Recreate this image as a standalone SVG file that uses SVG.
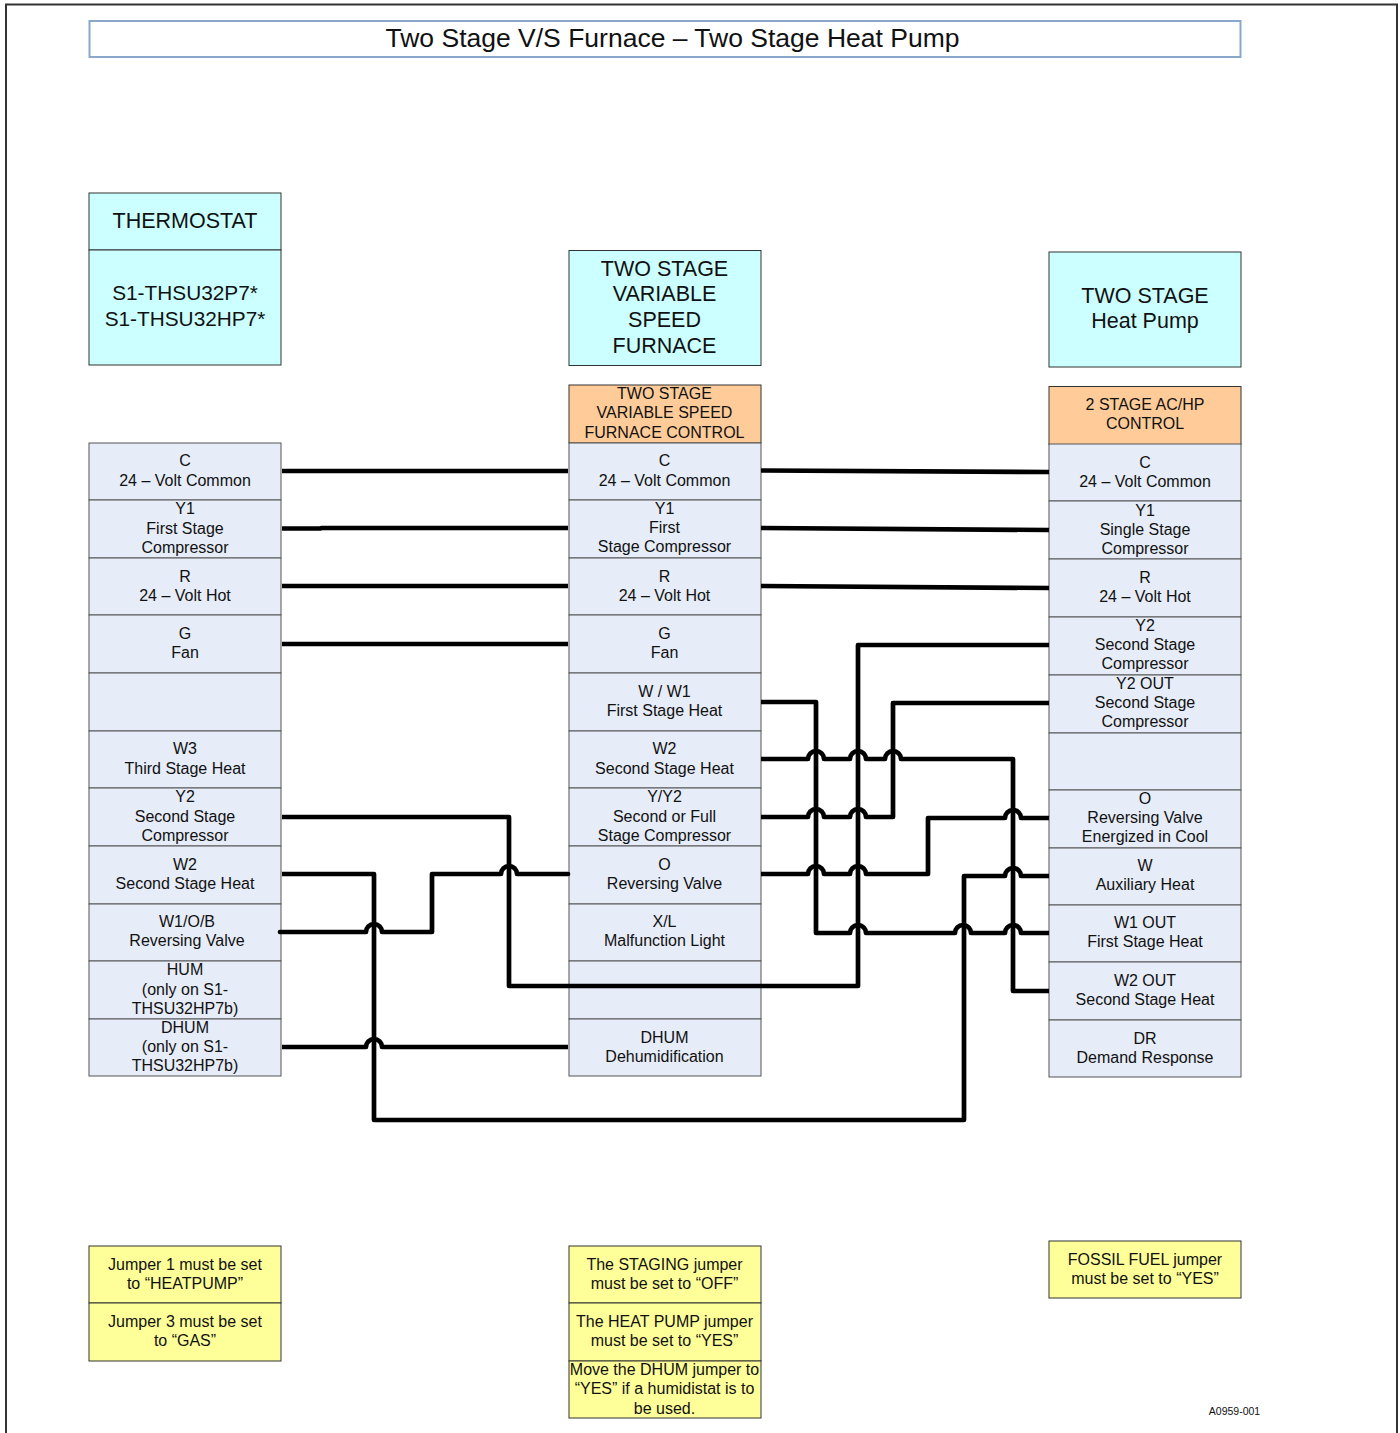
<svg xmlns="http://www.w3.org/2000/svg" width="1400" height="1433" viewBox="0 0 1400 1433">
<style>
text{font-family:"Liberation Sans",Arial,sans-serif;fill:#111;text-anchor:middle}
.t{font-size:16px}.h{font-size:21.500px}.s{font-size:20.800px}
.c{fill:#e6ecf8;stroke:#555;stroke-width:1}
.a{fill:#ccffff;stroke:#333;stroke-width:1}
.r{fill:#ffcc99;stroke:#333;stroke-width:1}
.y{fill:#ffff99;stroke:#333;stroke-width:1}
.w{fill:none;stroke:#000;stroke-width:4.700;stroke-linejoin:round;stroke-linecap:butt}
</style>
<rect x="6" y="4.500" width="1391" height="1440" fill="#fff" stroke="#333" stroke-width="2"/>
<g id="title"><rect x="89.500" y="21" width="1151" height="36" fill="#fff" stroke="#8aa8cc" stroke-width="2"/><text x="672.500" y="47" style="font-size:26.500px">Two Stage V/S Furnace – Two Stage Heat Pump</text></g>

<g id="thermostat-head"><rect class="a" x="89" y="193" width="192" height="57"/><text class="h" x="185" y="228">THERMOSTAT</text><rect class="a" x="89" y="250" width="192" height="115"/><text class="s" x="185" y="300">S1-THSU32P7*</text><text class="s" x="185" y="326">S1-THSU32HP7*</text></g>
<g id="furnace-head"><rect class="a" x="569" y="250.500" width="192" height="115"/><text class="h" x="664.500" y="276">TWO STAGE</text><text class="h" x="664.500" y="301">VARIABLE</text><text class="h" x="664.500" y="327">SPEED</text><text class="h" x="664.500" y="353">FURNACE</text></g>
<g id="heatpump-head"><rect class="a" x="1049" y="252" width="192" height="115"/><text class="h" x="1145" y="303">TWO STAGE</text><text class="h" x="1145" y="328">Heat Pump</text></g>
<g id="furnace-control"><rect class="r" x="569" y="385" width="192" height="58"/><text class="t" x="664.500" y="399">TWO STAGE</text><text class="t" x="664.500" y="418">VARIABLE SPEED</text><text class="t" x="664.500" y="438">FURNACE CONTROL</text></g>
<g id="hp-control"><rect class="r" x="1049" y="386.500" width="192" height="58"/><text class="t" x="1145" y="410">2 STAGE AC/HP</text><text class="t" x="1145" y="429">CONTROL</text></g>

<g id="L-C"><rect class="c" x="89" y="443" width="192" height="57"/><text class="t" x="185" y="466">C</text><text class="t" x="185" y="486">24 – Volt Common</text></g>
<g id="L-Y1"><rect class="c" x="89" y="500" width="192" height="58"/><text class="t" x="185" y="514">Y1</text><text class="t" x="185" y="534">First Stage</text><text class="t" x="185" y="553">Compressor</text></g>
<g id="L-R"><rect class="c" x="89" y="558" width="192" height="57"/><text class="t" x="185" y="582">R</text><text class="t" x="185" y="601">24 – Volt Hot</text></g>
<g id="L-G"><rect class="c" x="89" y="615" width="192" height="58"/><text class="t" x="185" y="639">G</text><text class="t" x="185" y="658">Fan</text></g>
<g id="L-empty"><rect class="c" x="89" y="673" width="192" height="58"/></g>
<g id="L-W3"><rect class="c" x="89" y="731" width="192" height="57"/><text class="t" x="185" y="754">W3</text><text class="t" x="185" y="774">Third Stage Heat</text></g>
<g id="L-Y2"><rect class="c" x="89" y="788" width="192" height="58"/><text class="t" x="185" y="802">Y2</text><text class="t" x="185" y="822">Second Stage</text><text class="t" x="185" y="841">Compressor</text></g>
<g id="L-W2"><rect class="c" x="89" y="846" width="192" height="58"/><text class="t" x="185" y="870">W2</text><text class="t" x="185" y="889">Second Stage Heat</text></g>
<g id="L-W1"><rect class="c" x="89" y="904" width="192" height="57"/><text class="t" x="187" y="927">W1/O/B</text><text class="t" x="187" y="946">Reversing Valve</text></g>
<g id="L-HUM"><rect class="c" x="89" y="961" width="192" height="58"/><text class="t" x="185" y="975">HUM</text><text class="t" x="185" y="995">(only on S1-</text><text class="t" x="185" y="1014">THSU32HP7b)</text></g>
<g id="L-DHUM"><rect class="c" x="89" y="1019" width="192" height="57"/><text class="t" x="185" y="1033">DHUM</text><text class="t" x="185" y="1052">(only on S1-</text><text class="t" x="185" y="1071">THSU32HP7b)</text></g>

<g id="M-C"><rect class="c" x="569" y="443" width="192" height="57"/><text class="t" x="664.500" y="466">C</text><text class="t" x="664.500" y="486">24 – Volt Common</text></g>
<g id="M-Y1"><rect class="c" x="569" y="500" width="192" height="58"/><text class="t" x="664.500" y="514">Y1</text><text class="t" x="664.500" y="533">First</text><text class="t" x="664.500" y="552">Stage Compressor</text></g>
<g id="M-R"><rect class="c" x="569" y="558" width="192" height="57"/><text class="t" x="664.500" y="582">R</text><text class="t" x="664.500" y="601">24 – Volt Hot</text></g>
<g id="M-G"><rect class="c" x="569" y="615" width="192" height="58"/><text class="t" x="664.500" y="639">G</text><text class="t" x="664.500" y="658">Fan</text></g>
<g id="M-W1"><rect class="c" x="569" y="673" width="192" height="58"/><text class="t" x="664.500" y="697">W / W1</text><text class="t" x="664.500" y="716">First Stage Heat</text></g>
<g id="M-W2"><rect class="c" x="569" y="731" width="192" height="57"/><text class="t" x="664.500" y="754">W2</text><text class="t" x="664.500" y="774">Second Stage Heat</text></g>
<g id="M-Y2"><rect class="c" x="569" y="788" width="192" height="58"/><text class="t" x="664.500" y="802">Y/Y2</text><text class="t" x="664.500" y="822">Second or Full</text><text class="t" x="664.500" y="841">Stage Compressor</text></g>
<g id="M-O"><rect class="c" x="569" y="846" width="192" height="58"/><text class="t" x="664.500" y="870">O</text><text class="t" x="664.500" y="889">Reversing Valve</text></g>
<g id="M-XL"><rect class="c" x="569" y="904" width="192" height="57"/><text class="t" x="664.500" y="927">X/L</text><text class="t" x="664.500" y="946">Malfunction Light</text></g>
<g id="M-empty"><rect class="c" x="569" y="961" width="192" height="58"/></g>
<g id="M-DHUM"><rect class="c" x="569" y="1019" width="192" height="57"/><text class="t" x="664.500" y="1043">DHUM</text><text class="t" x="664.500" y="1062">Dehumidification</text></g>

<g id="R-C"><rect class="c" x="1049" y="444" width="192" height="57"/><text class="t" x="1145" y="468">C</text><text class="t" x="1145" y="487">24 – Volt Common</text></g>
<g id="R-Y1"><rect class="c" x="1049" y="501" width="192" height="58"/><text class="t" x="1145" y="516">Y1</text><text class="t" x="1145" y="535">Single Stage</text><text class="t" x="1145" y="554">Compressor</text></g>
<g id="R-R"><rect class="c" x="1049" y="559" width="192" height="58"/><text class="t" x="1145" y="583">R</text><text class="t" x="1145" y="602">24 – Volt Hot</text></g>
<g id="R-Y2"><rect class="c" x="1049" y="617" width="192" height="58"/><text class="t" x="1145" y="631">Y2</text><text class="t" x="1145" y="650">Second Stage</text><text class="t" x="1145" y="669">Compressor</text></g>
<g id="R-Y2OUT"><rect class="c" x="1049" y="675" width="192" height="58"/><text class="t" x="1145" y="689">Y2 OUT</text><text class="t" x="1145" y="708">Second Stage</text><text class="t" x="1145" y="727">Compressor</text></g>
<g id="R-empty"><rect class="c" x="1049" y="733" width="192" height="57"/></g>
<g id="R-O"><rect class="c" x="1049" y="790" width="192" height="58"/><text class="t" x="1145" y="804">O</text><text class="t" x="1145" y="823">Reversing Valve</text><text class="t" x="1145" y="842">Energized in Cool</text></g>
<g id="R-W"><rect class="c" x="1049" y="848" width="192" height="57"/><text class="t" x="1145" y="871">W</text><text class="t" x="1145" y="890">Auxiliary Heat</text></g>
<g id="R-W1OUT"><rect class="c" x="1049" y="905" width="192" height="57"/><text class="t" x="1145" y="928">W1 OUT</text><text class="t" x="1145" y="947">First Stage Heat</text></g>
<g id="R-W2OUT"><rect class="c" x="1049" y="962" width="192" height="58"/><text class="t" x="1145" y="986">W2 OUT</text><text class="t" x="1145" y="1005">Second Stage Heat</text></g>
<g id="R-DR"><rect class="c" x="1049" y="1020" width="192" height="57"/><text class="t" x="1145" y="1044">DR</text><text class="t" x="1145" y="1063">Demand Response</text></g>

<g id="connectors">
<path class="w" d="M282 471H568"/>
<path class="w" d="M761 470.500L1049 472"/>
<path class="w" d="M282 528.500H320L322 528H568"/>
<path class="w" d="M761 528L1049 530"/>
<path class="w" d="M282 586H568"/>
<path class="w" d="M761 586L1049 588"/>
<path class="w" d="M282 644H568"/>
<path class="w" d="M282 817H509V986H858V645H1049"/>
<path class="w" d="M761 817H808A8 8 0 0 1 824 817H850A8 8 0 0 1 866 817H893V703H1049"/>
<path class="w" d="M761 702H816V933H850A8 8 0 0 1 866 933H955A8 8 0 0 1 971 933H1005A8 8 0 0 1 1021 933H1049"/>
<path class="w" d="M761 759H808A8 8 0 0 1 824 759H850A8 8 0 0 1 866 759H885A8 8 0 0 1 901 759H1013V991H1049"/>
<path class="w" d="M761 874H808A8 8 0 0 1 824 874H850A8 8 0 0 1 866 874H928V818H1005A8 8 0 0 1 1021 818H1049"/>
<path class="w" d="M282 874H374V1120H964V876H1005A8 8 0 0 1 1021 876H1049"/>
<path class="w" stroke-linecap="round" style="stroke-linecap:round" d="M280 932H366A8 8 0 0 1 382 932H432V874H501A8 8 0 0 1 517 874H568"/>
<path class="w" d="M282 1047H366A8 8 0 0 1 382 1047H568"/>
</g>

<g id="J1"><rect class="y" x="89" y="1246" width="192" height="57"/><text class="t" x="185" y="1270">Jumper 1 must be set</text><text class="t" x="185" y="1289">to “HEATPUMP”</text></g>
<g id="J3"><rect class="y" x="89" y="1303" width="192" height="58"/><text class="t" x="185" y="1327">Jumper 3 must be set</text><text class="t" x="185" y="1346">to “GAS”</text></g>
<g id="staging"><rect class="y" x="569" y="1246" width="192" height="57"/><text class="t" x="664.500" y="1270">The STAGING jumper</text><text class="t" x="664.500" y="1289">must be set to “OFF”</text></g>
<g id="heatpump-jumper"><rect class="y" x="569" y="1303" width="192" height="58"/><text class="t" x="664.500" y="1327">The HEAT PUMP jumper</text><text class="t" x="664.500" y="1346">must be set to “YES”</text></g>
<g id="dhum-jumper"><rect class="y" x="569" y="1361" width="192" height="57"/><text class="t" x="664.500" y="1375">Move the DHUM jumper to</text><text class="t" x="664.500" y="1394">“YES” if a humidistat is to</text><text class="t" x="664.500" y="1414">be used.</text></g>
<g id="fossil"><rect class="y" x="1049" y="1241" width="192" height="57"/><text class="t" x="1145" y="1265">FOSSIL FUEL jumper</text><text class="t" x="1145" y="1284">must be set to “YES”</text></g>
<text x="1234.500" y="1415" style="font-size:10.500px">A0959-001</text>
</svg>
